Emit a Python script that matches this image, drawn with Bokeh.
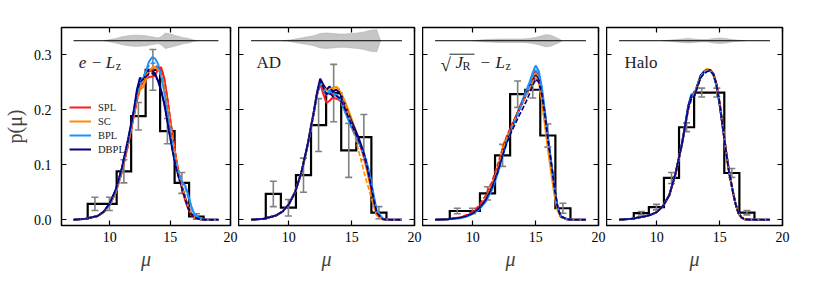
from bokeh.plotting import figure
from bokeh.layouts import row
from bokeh.models import (Range1d, LinearAxis, FixedTicker, PrintfTickFormatter,
                          Legend, LegendItem)
from bokeh.embed import file_html
from bokeh.resources import INLINE
from bokeh.core.properties import value

# ---------------- data ----------------
MU = [7, 8, 9, 9.5, 10, 10.5, 11, 11.5, 12, 12.25, 12.5, 12.75, 13, 13.25, 13.5, 13.75,
      14, 14.25, 14.5, 14.75, 15, 15.25, 15.5, 15.75, 16, 16.25, 16.5, 16.75, 17, 17.5, 18, 19]

MODELS = ["SPL", "SC", "BPL", "DBPL"]
PANELS = ["e-Lz", "AD", "sqrtJR-Lz", "Halo"]

# panel 1 : e - Lz
P1_SPL = [0, .002, .007, .014, .027, .050, .087, .135, .190, .220, .240, .250, .256, .259, .260, .262,
          .274, .277, .258, .222, .180, .143, .110, .080, .055, .035, .020, .010, .004, .001, 0, 0]
P1_SC = [0, .002, .007, .014, .027, .050, .087, .135, .190, .218, .236, .240, .255, .268, .276, .278,
         .275, .264, .245, .213, .177, .142, .110, .083, .060, .040, .024, .012, .005, .001, 0, 0]
P1_BPL = [0, .002, .007, .014, .028, .052, .090, .140, .193, .222, .245, .256, .270, .287, .295, .293,
          .283, .263, .236, .200, .160, .128, .100, .080, .068, .062, .045, .025, .011, .002, 0, 0]
P1_DBPL = [0, .002, .007, .015, .030, .055, .094, .145, .200, .236, .258, .253, .262, .272, .271, .265,
           .252, .235, .212, .182, .150, .120, .095, .075, .058, .040, .022, .011, .005, .001, 0, 0]
P1_SPL_D = [0, .002, .007, .014, .027, .050, .086, .133, .187, .215, .238, .252, .262, .268, .272, .275,
            .277, .274, .258, .226, .186, .148, .113, .082, .056, .036, .020, .009, .004, .001, 0, 0]
P1_SC_D = [0, .002, .007, .014, .028, .052, .089, .138, .192, .222, .240, .252, .262, .270, .275, .276,
           .272, .262, .243, .210, .172, .138, .108, .082, .060, .040, .024, .012, .005, .001, 0, 0]
P1_BPL_D = [0, .002, .007, .014, .028, .053, .091, .141, .195, .226, .248, .260, .270, .280, .285, .284,
            .276, .260, .235, .200, .163, .130, .102, .082, .068, .058, .040, .022, .010, .002, 0, 0]
P1_DBPL_D = [0, .002, .007, .015, .030, .055, .093, .143, .198, .232, .250, .255, .260, .265, .266, .262,
             .252, .235, .212, .182, .150, .120, .094, .073, .055, .038, .021, .010, .004, .001, 0, 0]

# panel 2 : AD
P2_SPL = [0, .002, .008, .015, .028, .050, .085, .135, .195, .228, .248, .228, .212, .216, .222, .220,
          .218, .212, .200, .188, .175, .162, .148, .132, .115, .092, .065, .035, .010, .001, 0, 0]
P2_SC = [0, .002, .008, .015, .028, .050, .085, .135, .195, .228, .252, .238, .235, .240, .238, .241,
         .236, .226, .213, .198, .183, .167, .150, .131, .110, .086, .060, .032, .008, .001, 0, 0]
P2_BPL = [0, .002, .008, .015, .028, .050, .085, .135, .195, .228, .250, .235, .228, .235, .228, .228,
          .222, .210, .195, .181, .168, .156, .145, .133, .120, .100, .075, .045, .015, .002, 0, 0]
P2_DBPL = [0, .002, .008, .015, .028, .050, .086, .137, .198, .232, .256, .245, .236, .242, .232, .236,
           .232, .222, .207, .192, .178, .165, .152, .136, .118, .095, .068, .038, .012, .001, 0, 0]
P2_SPL_D = [0, .002, .008, .015, .028, .050, .085, .134, .194, .226, .245, .235, .225, .228, .228, .225,
            .220, .212, .200, .187, .174, .160, .146, .130, .112, .090, .063, .034, .010, .001, 0, 0]
P2_SC_D = [0, .002, .008, .015, .028, .050, .085, .135, .196, .230, .250, .240, .236, .238, .240, .242,
           .238, .226, .210, .192, .172, .152, .130, .108, .085, .065, .045, .025, .008, .001, 0, 0]
P2_BPL_D = [0, .002, .008, .015, .028, .050, .085, .135, .195, .228, .248, .236, .228, .232, .226, .226,
            .220, .208, .194, .180, .166, .154, .142, .130, .117, .098, .074, .045, .016, .002, 0, 0]
P2_DBPL_D = [0, .002, .008, .015, .028, .050, .086, .136, .197, .230, .252, .240, .228, .230, .224, .225,
             .222, .212, .200, .186, .172, .160, .148, .133, .116, .094, .067, .037, .012, .001, 0, 0]

# panel 3 : sqrt(JR) - Lz
P3_SPL = [0, .001, .004, .007, .013, .022, .037, .060, .093, .113, .133, .150, .165, .178, .191, .204,
          .217, .230, .243, .258, .271, .262, .232, .190, .143, .100, .056, .022, .006, .001, 0, 0]
P3_SC = [0, .001, .004, .007, .012, .021, .036, .060, .095, .118, .140, .152, .158, .175, .192, .206,
         .218, .230, .242, .255, .266, .252, .215, .170, .125, .083, .045, .017, .005, .001, 0, 0]
P3_BPL = [0, .001, .003, .006, .011, .019, .032, .053, .085, .105, .125, .143, .160, .176, .190, .205,
          .220, .234, .249, .266, .280, .270, .240, .195, .148, .103, .058, .022, .006, .001, 0, 0]
P3_DBPL = [0, .001, .004, .007, .012, .021, .035, .058, .090, .110, .130, .148, .163, .176, .190, .203,
           .215, .228, .240, .252, .262, .255, .228, .188, .142, .100, .057, .022, .006, .001, 0, 0]
P3_SPL_D = [0, .001, .005, .009, .015, .026, .044, .068, .102, .121, .140, .155, .168, .180, .192, .204,
            .215, .226, .237, .248, .257, .250, .225, .185, .140, .098, .056, .022, .006, .001, 0, 0]
P3_SC_D = [0, .001, .004, .007, .012, .021, .036, .059, .092, .112, .133, .150, .163, .176, .189, .202,
           .214, .226, .238, .250, .260, .250, .218, .175, .130, .088, .048, .018, .005, .001, 0, 0]
P3_BPL_D = [0, .001, .003, .006, .011, .019, .033, .055, .087, .107, .127, .145, .160, .174, .188, .202,
            .216, .230, .244, .260, .272, .263, .235, .192, .146, .102, .058, .022, .006, .001, 0, 0]
P3_DBPL_D = [0, .001, .004, .007, .012, .021, .035, .057, .088, .107, .126, .142, .156, .168, .180, .192,
             .203, .215, .228, .243, .255, .250, .226, .187, .142, .100, .057, .022, .006, .001, 0, 0]

# panel 4 : Halo
P4_SPL = [0, .002, .006, .009, .014, .025, .045, .084, .137, .170, .203, .222, .226, .243, .260, .268,
          .272, .272, .265, .246, .212, .170, .127, .088, .057, .030, .012, .004, .001, 0, 0, 0]
P4_SC = [0, .002, .006, .009, .014, .025, .045, .085, .138, .171, .205, .224, .228, .246, .263, .270,
         .274, .272, .263, .243, .208, .166, .124, .086, .056, .030, .012, .004, .001, 0, 0, 0]
P4_BPL = [0, .002, .006, .009, .014, .025, .045, .085, .138, .172, .207, .228, .230, .246, .262, .268,
          .272, .271, .264, .244, .210, .168, .126, .087, .057, .030, .012, .004, .001, 0, 0, 0]
P4_DBPL = [0, .002, .006, .009, .014, .025, .045, .085, .138, .170, .205, .225, .226, .245, .262, .268,
           .272, .272, .265, .245, .210, .168, .125, .087, .057, .030, .012, .004, .001, 0, 0, 0]
P4_SPL_D = [0, .002, .006, .009, .014, .025, .044, .082, .134, .166, .198, .218, .228, .244, .258, .266,
            .271, .272, .266, .248, .214, .172, .129, .089, .058, .031, .012, .004, .001, 0, 0, 0]
P4_SC_D = [0, .002, .006, .009, .014, .025, .045, .084, .136, .168, .200, .220, .228, .245, .260, .268,
           .272, .271, .264, .245, .210, .168, .126, .087, .057, .030, .012, .004, .001, 0, 0, 0]
P4_BPL_D = [0, .002, .006, .009, .014, .025, .045, .084, .137, .170, .203, .222, .227, .244, .259, .266,
            .270, .270, .263, .244, .210, .168, .126, .087, .057, .030, .012, .004, .001, 0, 0, 0]
P4_DBPL_D = [0, .002, .006, .009, .014, .025, .045, .085, .137, .169, .202, .220, .225, .242, .258, .265,
             .269, .270, .264, .245, .211, .169, .126, .087, .057, .030, .012, .004, .001, 0, 0, 0]

# histograms (bin edges shared) and error bars
EDGES = [8.17, 9.37, 10.57, 11.77, 12.97, 14.17, 15.37, 16.57, 17.77]
H1 = [0.029, 0.029, 0.088, 0.188, 0.272, 0.161, 0.067, 0.006]
E1 = [0.012, 0.012, 0.021, 0.025, 0.037, 0.023, 0.019, 0.005]
H2 = [0.047, 0.022, 0.081, 0.172, 0.230, 0.126, 0.150, 0.013]
E2 = [0.023, 0.015, 0.031, 0.048, 0.052, 0.049, 0.041, 0.011]
H3 = [0.016, 0.016, 0.048, 0.117, 0.228, 0.236, 0.153, 0.021]
E3 = [0.005, 0.005, 0.012, 0.020, 0.024, 0.015, 0.021, 0.009]
H4 = [0.012, 0.023, 0.076, 0.168, 0.231, 0.231, 0.085, 0.013]
E4 = [0.003, 0.005, 0.010, 0.008, 0.008, 0.008, 0.008, 0.004]

# violin strips at the top (centre level and half widths)
VIOLIN_LEVEL = 0.325
V1_MU = [9.5, 10, 10.5, 11, 11.5, 12, 12.5, 13, 13.5, 14, 14.3, 14.6, 15, 15.5, 16, 16.5, 17, 17.3]
V1_HW = [0, .002, .004, .007, .009, .010, .010, .009, .007, .005, .008, .014, .012, .009, .006, .004, .001, 0]
V2_MU = [9.5, 10, 10.5, 11, 11.5, 12, 12.5, 13, 13.5, 14, 14.5, 15, 15.5, 16, 16.5, 17, 17.3]
V2_HW = [0, .001, .003, .005, .007, .009, .013, .014, .013, .012, .012, .013, .014, .016, .019, .020, 0]
V3_MU = [10, 10.5, 11, 12, 13, 14, 14.5, 15, 15.5, 15.8, 16.2, 16.5, 16.8, 17.1]
V3_HW = [0, .001, .002, .003, .003, .003, .004, .006, .009, .011, .010, .007, .004, 0]
V4_MU = [10.5, 11, 12, 12.5, 13, 13.5, 14, 14.5, 15, 15.5, 16, 16.5, 17]
V4_HW = [0, .001, .003, .004, .003, .002, .002, .004, .005, .004, .002, .001, 0]

X_TICKS = [10, 15, 20]
Y_TICKS = [0.0, 0.1, 0.2, 0.3]

# ---------------- styling ----------------
SERIF = "'Liberation Serif', 'DejaVu Serif', serif"
COLORS = {"SPL": "#ff1a1a", "SC": "#ff8c00", "BPL": "#1e90ff", "DBPL": "#00007f"}
XR = (6, 20)
YR = (-0.0103, 0.349)
FRAME_W = 176
FRAME_H = 198
TOP = 27
BOTTOM = 63
LABEL_X = 7.43
LABEL_Y = 0.286
PX = FRAME_W / (XR[1] - XR[0])
PY = FRAME_H / (YR[1] - YR[0])

SOLID = [[P1_SPL, P1_SC, P1_BPL, P1_DBPL], [P2_SPL, P2_SC, P2_BPL, P2_DBPL],
         [P3_SPL, P3_SC, P3_BPL, P3_DBPL], [P4_SPL, P4_SC, P4_BPL, P4_DBPL]]
DASHED = [[P1_SPL_D, P1_SC_D, P1_BPL_D, P1_DBPL_D], [P2_SPL_D, P2_SC_D, P2_BPL_D, P2_DBPL_D],
          [P3_SPL_D, P3_SC_D, P3_BPL_D, P3_DBPL_D], [P4_SPL_D, P4_SC_D, P4_BPL_D, P4_DBPL_D]]
HISTS = [(H1, E1), (H2, E2), (H3, E3), (H4, E4)]
VIOLINS = [(V1_MU, V1_HW), (V2_MU, V2_HW), (V3_MU, V3_HW), (V4_MU, V4_HW)]


def style_axis(ax, ticks, labels, fmt, standoff):
    ax.ticker = FixedTicker(ticks=ticks)
    ax.major_tick_in = 5
    ax.major_tick_out = 0
    ax.major_tick_line_width = 1.2
    ax.major_tick_line_color = "black"
    ax.minor_tick_line_color = None
    ax.axis_line_color = None
    if labels:
        ax.formatter = PrintfTickFormatter(format=fmt)
        ax.major_label_text_font = SERIF
        ax.major_label_text_font_size = "14px"
        ax.major_label_text_color = "black"
        ax.major_label_standoff = standoff
    else:
        ax.major_label_text_color = None
        ax.major_label_text_font_size = "0px"
        ax.major_label_standoff = 0


def text(p, s, dx, dy=0, size="17px", style="normal"):
    p.text(x=[LABEL_X], y=[LABEL_Y], text=[s], x_offset=dx, y_offset=dy,
           text_font=value(SERIF), text_font_size=size, text_font_style=style,
           text_color="#222222", text_baseline="alphabetic", text_align="left")


def make_panel(i):
    first = i == 0
    p = figure(width=(54 if first else 0) + FRAME_W + 8, height=TOP + FRAME_H + BOTTOM,
               x_range=Range1d(*XR), y_range=Range1d(*YR),
               output_backend="svg", toolbar_location=None,
               min_border_left=54 if first else 0, min_border_right=8,
               min_border_top=TOP, min_border_bottom=BOTTOM)
    p.grid.visible = False
    p.outline_line_color = "black"
    p.outline_line_width = 1.5
    p.background_fill_color = "white"
    p.border_fill_color = "white"

    style_axis(p.xaxis[0], X_TICKS, True, "%d", 6)
    p.xaxis.axis_label = "μ"
    p.xaxis.axis_label_text_font = SERIF
    p.xaxis.axis_label_text_font_size = "20px"
    p.xaxis.axis_label_text_font_style = "italic"
    p.xaxis.axis_label_standoff = 3
    style_axis(p.yaxis[0], Y_TICKS, first, "%.1f", 10)
    if first:
        p.yaxis.axis_label = "p(μ)"
        p.yaxis.axis_label_text_font = SERIF
        p.yaxis.axis_label_text_font_size = "20px"
        p.yaxis.axis_label_text_font_style = "normal"
        p.yaxis.axis_label_standoff = 5
    top = LinearAxis()
    style_axis(top, X_TICKS, False, None, 0)
    p.add_layout(top, "above")
    right = LinearAxis()
    style_axis(right, Y_TICKS, False, None, 0)
    p.add_layout(right, "right")

    # violin strip
    vmu, vhw = VIOLINS[i]
    p.varea(x=vmu, y1=[VIOLIN_LEVEL - h for h in vhw], y2=[VIOLIN_LEVEL + h for h in vhw],
            fill_color="#c6c6c6", fill_alpha=1.0)
    p.line(x=vmu, y=[VIOLIN_LEVEL - h for h in vhw], line_color="#b0b0b0", line_width=0.6)
    p.line(x=vmu, y=[VIOLIN_LEVEL + h for h in vhw], line_color="#b0b0b0", line_width=0.6)
    p.line(x=[MU[0], MU[-1]], y=[VIOLIN_LEVEL, VIOLIN_LEVEL], line_color="black", line_width=1.0)

    # histogram
    h, e = HISTS[i]
    hx, hy = [EDGES[0]], [0.0]
    for k, v in enumerate(h):
        hx += [EDGES[k], EDGES[k + 1]]
        hy += [v, v]
    hx.append(EDGES[-1])
    hy.append(0.0)
    p.line(x=hx, y=hy, line_color="black", line_width=2.2, line_join="miter")

    # error bars
    cen = [(EDGES[k] + EDGES[k + 1]) / 2 for k in range(len(h))]
    lo = [v - d for v, d in zip(h, e)]
    hi = [v + d for v, d in zip(h, e)]
    p.segment(x0=cen, y0=lo, x1=cen, y1=hi, line_color="#808080", line_width=1.6)
    p.scatter(x=cen + cen, y=lo + hi, marker="dash", size=7, line_color="#808080",
              line_width=1.6)

    # model curves
    items = []
    for m, ys in zip(MODELS, SOLID[i]):
        r = p.line(x=MU, y=ys, line_color=COLORS[m], line_width=2.0)
        items.append(LegendItem(label=m, renderers=[r]))
    for m, ys in zip(MODELS, DASHED[i]):
        p.line(x=MU, y=ys, line_color=COLORS[m], line_width=1.6, line_dash="5 2")

    if first:
        leg = Legend(items=items, location=(8, 69), padding=0, spacing=0, margin=0,
                     glyph_width=22, glyph_height=14, label_height=14, label_standoff=7,
                     label_text_font=SERIF, label_text_font_size="10.5px",
                     label_text_color="#222222",
                     border_line_color=None, background_fill_alpha=0)
        p.add_layout(leg)

    # panel titles
    if i == 0:
        text(p, "e", 0, style="italic")
        text(p, "−", 13)
        text(p, "L", 27, style="italic")
        text(p, "z", 37, 4, size="12px")
    elif i == 1:
        text(p, "AD", 0)
    elif i == 2:
        text(p, "√", 0, 2, size="19px")
        text(p, "J", 15, style="italic")
        text(p, "R", 22, 4, size="12px")
        text(p, "−", 40)
        text(p, "L", 55, style="italic")
        text(p, "z", 65, 4, size="12px")
        p.line(x=[LABEL_X + 9 / PX, LABEL_X + 34 / PX],
               y=[LABEL_Y + 8 / PY, LABEL_Y + 8 / PY],
               line_color="#222222", line_width=1.0)
    else:
        text(p, "Halo", 0)
    return p


panels = [make_panel(i) for i in range(4)]
layout = row(*panels)
open("out.html", "w").write(file_html(layout, INLINE))
